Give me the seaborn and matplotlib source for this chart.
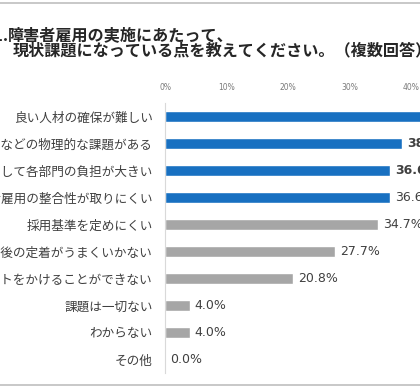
import matplotlib
matplotlib.use("Agg")
import matplotlib.pyplot as plt
import seaborn as sns
import pandas as pd
from matplotlib.lines import Line2D

categories = [
    "良い人材の確保が難しい",
    "バリアフリー化などの物理的な課題がある",
    "受け入れに関して各部門の負担が大きい",
    "既存社員と障害者雇用の整合性が取りにくい",
    "採用基準を定めにくい",
    "入社後の定着がうまくいかない",
    "採用にコストをかけることができない",
    "課題は一切ない",
    "わからない",
    "その他",
]
values = [44.6, 38.6, 36.6, 36.6, 34.7, 27.7, 20.8, 4.0, 4.0, 0.0]
highlight = [True, True, True, True, False, False, False, False, False, False]
bold_label = [True, True, True, False, False, False, False, False, False, False]
x_ticks = [0, 10, 20, 30, 40, 50]
x_tick_labels = ["0%", "10%", "20%", "30%", "40%", "50%"]
title_prefix = "Q1."
title_line1 = "障害者雇用の実施にあたって、"
title_line2 = "現状課題になっている点を教えてください。（複数回答）"

BLUE = "#1870c1"
GRAY = "#a6a6a6"
TEXT = "#404040"

sns.set_theme(style="white")
plt.rcParams["font.family"] = ["Noto Sans CJK JP", "DejaVu Sans"]

df = pd.DataFrame({"cat": categories, "val": values,
                   "grp": ["hi" if h else "lo" for h in highlight]})

W, H = 420, 390
fig = plt.figure(figsize=(W / 100, H / 100), dpi=100)
px_per = 6.15
left = 165 / W
width = px_per * 50 / W
ax = fig.add_axes([left, 17 / H, width, 270 / H])

sns.barplot(data=df, x="val", y="cat", hue="grp", palette={"hi": BLUE, "lo": GRAY},
            order=categories, dodge=False, width=0.38, legend=False, ax=ax,
            saturation=1)

ax.set_xlim(0, 50)
ax.set_ylim(9.5, -0.5)
ax.set_xlabel("")
ax.set_ylabel("")
ax.xaxis.tick_top()
ax.set_xticks(x_ticks)
ax.set_xticklabels(x_tick_labels, fontsize=5.5, color="#7a7a7a", family="DejaVu Sans")
ax.tick_params(axis="x", length=0, pad=8)
ax.tick_params(axis="y", length=0, pad=9, labelsize=9.1, labelcolor=TEXT)
for s in ["top", "right", "bottom"]:
    ax.spines[s].set_visible(False)
ax.spines["left"].set_color("#d9d9d9")
ax.spines["left"].set_linewidth(0.8)

for i, (v, b) in enumerate(zip(values, bold_label)):
    ax.text(v + 0.8, i, f"{v:.1f}%", va="center", ha="left", fontsize=9,
            color=TEXT, fontweight="bold" if b else "normal",
            family="DejaVu Sans", clip_on=False)

# title
fs = 11.6
fig.text(8 / W, 1 - 35.5 / H, title_prefix, fontsize=fs, fontweight="bold",
         color="#262626", va="center", ha="right")
fig.text(8 / W, 1 - 35.5 / H, title_line1, fontsize=fs, fontweight="bold",
         color="#262626", va="center", ha="left")
fig.text(13 / W, 1 - 50.5 / H, title_line2, fontsize=fs, fontweight="bold",
         color="#262626", va="center", ha="left")

for yp in [3, 385]:
    fig.add_artist(Line2D([0, 1], [1 - yp / H, 1 - yp / H], color="#bfbfbf",
                          linewidth=1.2, transform=fig.transFigure))

fig.savefig("out.png", dpi=100)
